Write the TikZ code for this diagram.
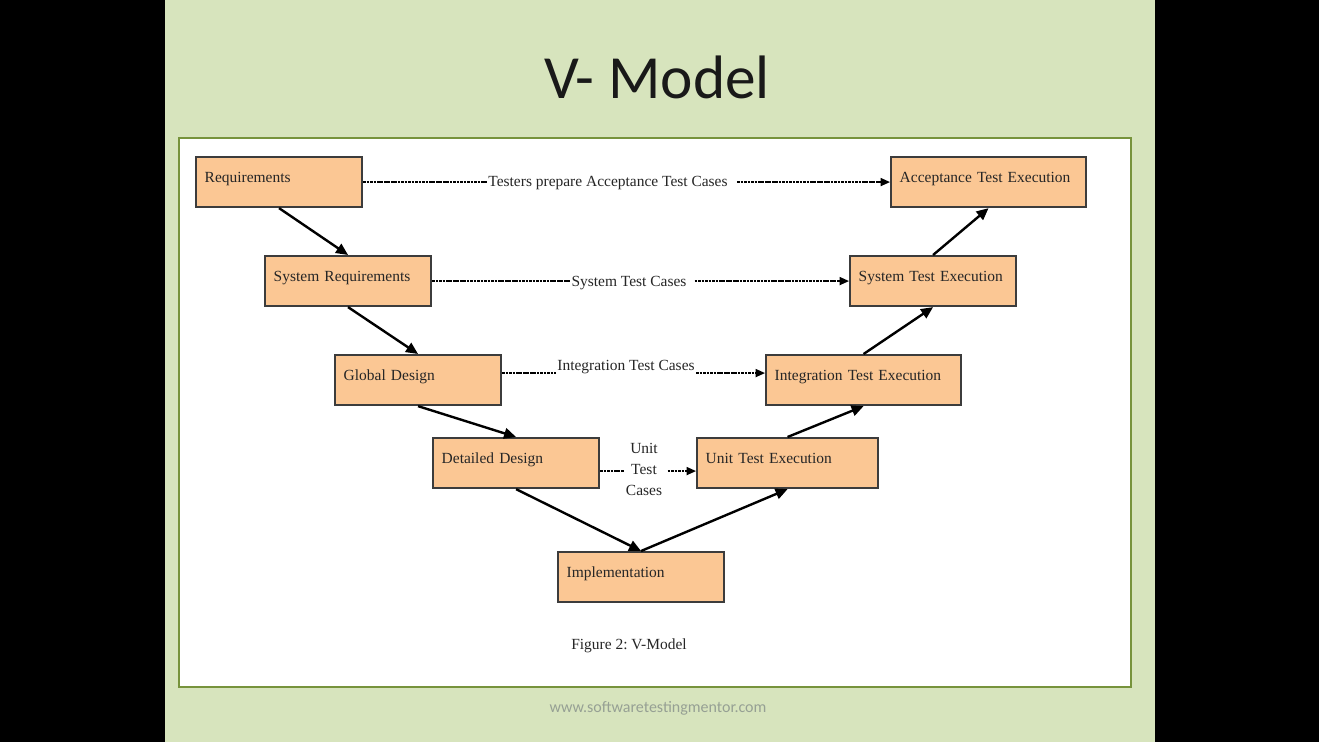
\documentclass[tikz,border=0pt]{standalone}
\usepackage{fontspec}
\setmainfont{Liberation Serif}
\newfontfamily\slidefont{Carlito}
\usetikzlibrary{arrows.meta, positioning}
\definecolor{slidegreen}{RGB}{215,228,189}
\definecolor{framegreen}{RGB}{119,147,60}
\definecolor{boxfill}{RGB}{251,199,148}
\definecolor{boxline}{RGB}{60,60,60}
\definecolor{urlgray}{RGB}{150,160,148}
\frenchspacing
\tikzset{
	stage/.style={draw=boxline, fill=boxfill, line width=1.6pt, anchor=north west,
		minimum height=37.5pt, inner xsep=6.5pt, text height=7pt, text depth=7pt,
		text width=#1, align=left, font=\fontsize{11.6}{14}\selectfont, text=black!85},
	stage/.default=111.5pt,
	vstep/.style={line width=1.8pt, -{Triangle[length=9pt,width=8pt]}},
	plan/.style={line width=1.1pt, dash pattern=on 2pt off 0.6pt},
	plantip/.style={plan, -{Triangle[length=7pt,width=6pt]}},
	cases/.style={inner sep=1pt, align=center, font=\fontsize{11.6}{15.75}\selectfont, text=black!85}
}
\begin{document}
\begin{tikzpicture}[x=0.75pt, y=-0.75pt]
	% Slide
	\useasboundingbox (0,0) rectangle (1319,742);
	\fill[black] (0,0) rectangle (1319,742);
	\fill[slidegreen] (165,0) rectangle (1155,742);
	\draw[framegreen, line width=2pt, fill=white] (179,138) rectangle (1131,687);
	\node[font=\slidefont\fontsize{46}{50}\selectfont, text=black!90] (title) at (657,77) {V- Model};
	
	% Stages
	\node[stage] (req) at (195,156) {Requirements};
	\node[stage] (sysreq) at (264,255) {System Requirements};
	\node[stage] (global) at (334,354) {Global Design};
	\node[stage] (detail) at (432,437) {Detailed Design};
	\node[stage] (impl) at (557,551) {Implementation};
	\node[stage=122.75pt] (unitexe) at (696,437) {Unit Test Execution};
	\node[stage=133.25pt] (integexe) at (765,354) {Integration Test Execution};
	\node[stage] (sysexe) at (849,255) {System Test Execution};
	\node[stage=133.25pt] (accexe) at (890,156) {Acceptance Test Execution};
	
	% V
	\foreach \a/\b in {req/sysreq, sysreq/global, global/detail, detail/impl}
		\draw[vstep] (\a.south) -- (\b.north);
	\foreach \a/\b in {impl/unitexe, unitexe/integexe, integexe/sysexe, sysexe/accexe}
		\draw[vstep] (\a.north) -- (\b.south);
	
	% Test cases
	\node[cases] (acccases) at (608,183) {Testers prepare Acceptance Test Cases};
	\draw[plan] (req.east) -- (req.east -| acccases.west);
	\draw[plantip, shorten <=6pt] (acccases.east |- accexe.west) -- (accexe.west);
	
	\node[cases] (syscases) at (629,283) {System Test Cases};
	\draw[plan] (sysreq.east) -- (sysreq.east -| syscases.west);
	\draw[plantip, shorten <=5pt] (syscases.east |- sysexe.west) -- (sysexe.west);
	
	\node[cases] (integcases) at (626,367) {Integration Test Cases};
	\draw[plan] ([yshift=5.25pt]global.east) -- ([yshift=5.25pt]global.east -| integcases.west);
	\draw[plantip] ([yshift=5.25pt]integexe.west -| integcases.east) -- ([yshift=5.25pt]integexe.west);
	
	\node[cases] (unitcases) at (644,469) {Unit\\Test\\Cases};
	\draw[plan] ([yshift=-6pt]detail.east) -- ([yshift=-6pt]detail.east -| unitcases.west);
	\draw[plantip, shorten <=3pt] ([yshift=-6pt]unitexe.west -| unitcases.east) -- ([yshift=-6pt]unitexe.west);
	
	% Caption and footer
	\node[cases] (caption) at (629,646) {Figure 2: V-Model};
	\node[font=\slidefont\fontsize{12}{14}\selectfont, text=urlgray] (url) at (658,708) {www.softwaretestingmentor.com};
\end{tikzpicture}
\end{document}
